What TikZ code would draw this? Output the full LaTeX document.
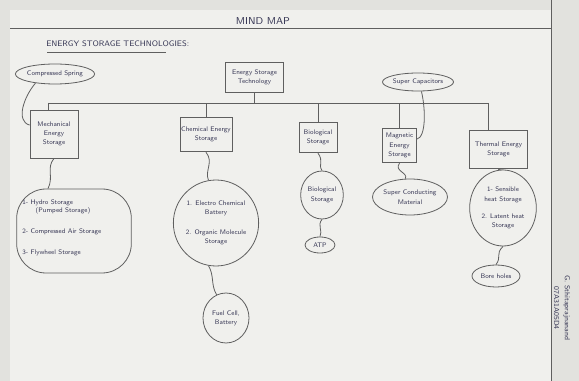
\documentclass[tikz,border=0pt]{standalone}
\usepackage{tikz}
\usetikzlibrary{shapes.geometric}

\definecolor{paper}{RGB}{240,240,237}
\definecolor{desk}{RGB}{226,226,222}
\definecolor{inkline}{RGB}{95,95,95}
\definecolor{inktext}{RGB}{55,55,85}

\tikzset{
  mapbox/.style={draw=inkline, line width=0.6pt, fill=paper, inner sep=1pt, align=center,
    font=\fontsize{5}{7}\selectfont\sffamily, text=inktext},
  mapblob/.style={ellipse, draw=inkline, line width=0.6pt, inner sep=0pt, align=center,
    font=\fontsize{5}{7}\selectfont\sffamily, text=inktext},
  squiggle/.style={draw=inkline, line width=0.6pt},
  busline/.style={draw=inkline, line width=0.6pt},
}

\begin{document}
\begin{tikzpicture}[x=0.75pt,y=0.75pt,yscale=-1,xscale=1]
%background sheet
\fill[desk] (0,0) rectangle (579,381);
\fill[paper] (10,10) rectangle (551,381);
\useasboundingbox (0,0) rectangle (579,381);

%sheet rules
\draw[inkline, line width=0.5pt] (10,28) -- (551,28);
\draw[inkline, line width=0.5pt] (551,0) -- (551,381);

% Titles
\node[text=inktext, font=\fontsize{7.5}{9}\selectfont\sffamily] (mindmap) at (263,21) {MIND MAP};
\node[text=inktext, font=\fontsize{6}{8}\selectfont\sffamily, anchor=west, inner sep=0pt] (title) at (46,44) {ENERGY STORAGE TECHNOLOGIES:};
\draw[inkline, line width=0.6pt] (47,52) -- (166,52);

% Main boxes
\node[mapbox, minimum width=43pt, minimum height=22.5pt] (tech) at (254.5,77) {Energy Storage\\Technology};
\node[mapbox, minimum width=36pt, minimum height=36pt] (mech) at (54,134) {Mechanical\\Energy\\Storage};
\node[mapbox, minimum width=39pt, minimum height=26pt] (chem) at (206,134.5) {Chemical Energy\\Storage};
\node[mapbox, minimum width=28.5pt, minimum height=23pt] (bio) at (318,137.5) {Biological\\Storage};
\node[mapbox, minimum width=25pt, minimum height=26pt] (magn) at (399.5,145.5) {Magnetic\\Energy\\Storage};
\node[mapbox, minimum width=44pt, minimum height=28pt] (therm) at (498.5,149.5) {Thermal Energy\\Storage};

% Side bubbles
\node[mapblob, minimum width=49.5pt, minimum height=15pt] (spring) at (55,74) {Compressed Spring};
\node[mapblob, minimum width=45pt, minimum height=13.5pt] (supcap) at (418,82) {Super Capacitors};

% Sub bubbles
\node[draw=inkline, line width=0.6pt, rounded corners=22pt, minimum width=86pt, minimum height=63pt] (mechlist) at (74,231) {};
\node[text=inktext, font=\fontsize{5}{7}\selectfont\sffamily, align=left, anchor=north west, inner sep=0pt] (mechtext) at (22,199)
  {1- Hydro Storage\\[-1pt]\hspace*{10pt}(Pumped Storage)\\[9pt]2- Compressed Air Storage\\[9pt]3- Flywheel Storage};
\node[mapblob, minimum width=62pt, minimum height=64.5pt] (chemlist) at (216,223)
  {1. Electro Chemical\\Battery\\[8pt]2. Organic Molecule\\Storage};
\node[mapblob, minimum width=34.5pt, minimum height=37.5pt] (fuel) at (226,318) {Fuel Cell,\\Battery};
\node[mapblob, minimum width=32pt, minimum height=36pt] (biolist) at (322,195) {Biological\\Storage};
\node[mapblob, minimum width=22.5pt, minimum height=12pt] (atp) at (320,245) {ATP};
\node[mapblob, minimum width=46.5pt, minimum height=27pt] (sucon) at (410,197) {Super Conducting\\Material};
\node[mapblob, minimum width=50pt, minimum height=57pt] (thermlist) at (503,208)
  {1- Sensible\\heat Storage\\[6pt]2. Latent heat\\Storage};
\node[mapblob, minimum width=36pt, minimum height=16.5pt] (bore) at (496,276) {Bore holes};

% Bus from the centre box
\coordinate (busL) at (48,103);
\coordinate (busR) at (488,103);
\draw[busline] (tech.south) -- (tech.south |- busL);
\draw[busline] (busL) -- (busR);
\draw[busline] (busL) -- (busL |- mech.north);
\draw[busline] (chem.north) -- (chem.north |- busL);
\draw[busline] (bio.north) -- (bio.north |- busL);
\draw[busline] (magn.north) -- (magn.north |- busL);
\draw[busline] (busR) -- (busR |- therm.north);

% Wavy links
\draw[squiggle] (spring.205) .. controls +(-12,14) and +(-14,-4) .. (mech.160);
\draw[squiggle] (supcap.290) .. controls +(4,16) and +(10,-2) .. (magn.20);
\draw[squiggle] (mech.south) .. controls +(-8,10) and +(6,-12) .. (busL |- mechlist.north);
\draw[squiggle] (chem.south) .. controls +(8,10) and +(-4,-10) .. (chemlist.100);
\draw[squiggle] (chemlist.260) .. controls +(6,10) and +(-6,-10) .. (fuel.112);
\draw[squiggle] (bio.south) .. controls +(6,8) and +(-4,-6) .. (biolist.north);
\draw[squiggle] (biolist.south) .. controls +(-5,6) and +(3,-6) .. (atp.north);
\draw[squiggle] (magn.south) .. controls +(-6,8) and +(4,-6) .. (sucon.105);
\draw[squiggle] (therm.south) .. controls +(-2,3) and +(2,-3) .. (thermlist.north);
\draw[squiggle] (thermlist.south) .. controls +(-8,8) and +(6,-8) .. (bore.north);

% Name on the margin
\node[text=inktext, font=\fontsize{5.5}{8}\selectfont\sffamily, rotate=-90, align=center] (student) at (562,308)
  {G. Sthitaprajnanand\\07A31A05D4};
\end{tikzpicture}
\end{document}
